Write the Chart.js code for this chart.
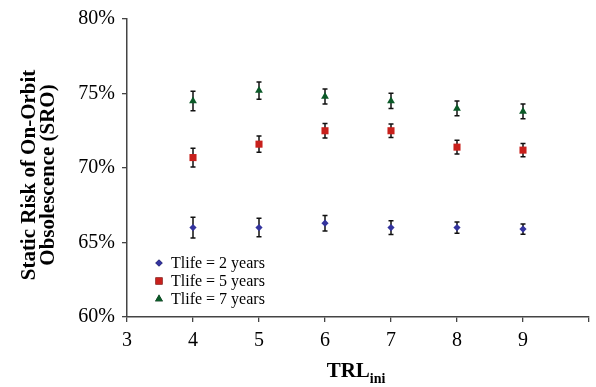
<!DOCTYPE html>
<html>
<head>
<meta charset="utf-8">
<script src="https://cdn.jsdelivr.net/npm/chart.js@4/dist/chart.umd.min.js"></script>
<style>
  html, body { margin: 0; padding: 0; background: #fff; }
  #grafico { display: block; }
</style>
</head>
<body>
<canvas id="grafico" width="596" height="387"></canvas>
<script>
// TRL inicial en el eje x
let trl = [4, 5, 6, 7, 8, 9]

// SRO medio (%) para cada vida util
let sro_2 = [66.0, 66.0, 66.3, 66.0, 66.0, 65.9]
let sro_5 = [70.7, 71.6, 72.5, 72.5, 71.4, 71.2]
let sro_7 = [74.5, 75.2, 74.8, 74.5, 74.0, 73.8]

// semiancho de las barras de error (%)
let err_2 = [0.70, 0.62, 0.52, 0.46, 0.38, 0.34]
let err_5 = [0.63, 0.54, 0.48, 0.46, 0.46, 0.45]
let err_7 = [0.65, 0.58, 0.51, 0.51, 0.49, 0.49]

let etiquetas = ['Tlife = 2 years', 'Tlife = 5 years', 'Tlife = 7 years']
let ticks_y = [60, 65, 70, 75, 80]

const serif = '"Liberation Serif", "Times New Roman", serif'

function puntos(valores){
  return trl.map((x, i) => ({ x: x, y: valores[i] }))
}

// barras de error, se dibujan antes de los marcadores
const barrasError = {
  id: 'barrasError',
  beforeDatasetsDraw(chart){
    const ctx = chart.ctx
    const sx = chart.scales.x
    const sy = chart.scales.y
    ctx.save()
    ctx.strokeStyle = '#111'
    ctx.lineWidth = 1.5
    chart.data.datasets.forEach(ds => {
      ds.data.forEach((p, i) => {
        const x = sx.getPixelForValue(p.x)
        const y1 = sy.getPixelForValue(p.y + ds.errores[i])
        const y2 = sy.getPixelForValue(p.y - ds.errores[i])
        ctx.beginPath()
        ctx.moveTo(x, y1); ctx.lineTo(x, y2)
        ctx.moveTo(x - 2.5, y1); ctx.lineTo(x + 2.5, y1)
        ctx.moveTo(x - 2.5, y2); ctx.lineTo(x + 2.5, y2)
        ctx.stroke()
      })
    })
    ctx.restore()
  }
}

// titulos de ejes y leyenda dentro del area
const textos = {
  id: 'textos',
  afterDraw(chart){
    const ctx = chart.ctx
    const area = chart.chartArea
    ctx.save()
    ctx.fillStyle = '#000'

    // titulo eje y
    ctx.save()
    ctx.translate(0, 175)
    ctx.rotate(-Math.PI / 2)
    ctx.font = 'bold 21px ' + serif
    ctx.textAlign = 'center'
    ctx.textBaseline = 'alphabetic'
    ctx.fillText('Static Risk of On-Orbit', 0, 35)
    ctx.fillText('Obsolescence (SRO)', 0, 54)
    ctx.restore()

    // titulo eje x con subindice
    ctx.font = 'bold 21px ' + serif
    const w1 = ctx.measureText('TRL').width
    ctx.font = 'bold 14px ' + serif
    const w2 = ctx.measureText('ini').width
    const x0 = (area.left + area.right) / 2 - (w1 + w2) / 2 - 2
    ctx.textAlign = 'left'
    ctx.textBaseline = 'alphabetic'
    ctx.font = 'bold 21px ' + serif
    ctx.fillText('TRL', x0, 377)
    ctx.font = 'bold 14px ' + serif
    ctx.fillText('ini', x0 + w1, 383)

    // leyenda
    ctx.font = '16px ' + serif
    chart.data.datasets.forEach((ds, i) => {
      const ly = 263 + i * 18
      Chart.helpers.drawPoint(ctx, {
        pointStyle: ds.pointStyle,
        radius: ds.pointRadius,
        borderWidth: 0
      }, 159, ly)
      ctx.fillStyle = ds.backgroundColor
      ctx.fill()
      ctx.fillStyle = '#000'
      ctx.fillText(ds.label, 171, ly + 5)
    })
    ctx.restore()
  }
}

let grafico = document.getElementById('grafico').getContext('2d')

new Chart(grafico, {
  type: 'scatter',
  data: {
    datasets: [{
      label: etiquetas[0],
      data: puntos(sro_2),
      errores: err_2,
      pointStyle: 'rectRot',
      pointRadius: 3.6,
      backgroundColor: '#34349e',
      borderWidth: 0
    }, {
      label: etiquetas[1],
      data: puntos(sro_5),
      errores: err_5,
      pointStyle: 'rect',
      pointRadius: 5,
      backgroundColor: '#c8201c',
      borderWidth: 0
    }, {
      label: etiquetas[2],
      data: puntos(sro_7),
      errores: err_7,
      pointStyle: 'triangle',
      pointRadius: 4.5,
      backgroundColor: '#0b5a28',
      borderWidth: 0
    }]
  },
  options: {
    responsive: false,
    animation: false,
    layout: { padding: { top: 19, right: 7, left: 0, bottom: 0 } },
    plugins: {
      legend: { display: false },
      tooltip: { enabled: false }
    },
    scales: {
      x: {
        type: 'linear',
        min: 3,
        max: 10,
        afterFit(scale){ scale.height = 70 },
        ticks: {
          stepSize: 1,
          padding: 7,
          color: '#000',
          font: { family: serif, size: 20 },
          callback: v => v === 10 ? '' : v
        },
        grid: { drawOnChartArea: false, drawTicks: true, tickLength: 5, color: '#444', lineWidth: 1.3 },
        border: { color: '#444', width: 1.5 }
      },
      y: {
        min: 60,
        max: 80,
        afterFit(scale){ scale.width = 127 },
        afterBuildTicks(scale){ scale.ticks = ticks_y.map(v => ({ value: v })) },
        ticks: {
          padding: 7,
          color: '#000',
          font: { family: serif, size: 20 },
          callback: v => v + '%'
        },
        grid: { drawOnChartArea: false, drawTicks: true, tickLength: 5, color: '#444', lineWidth: 1.3 },
        border: { color: '#444', width: 1.5 }
      }
    }
  },
  plugins: [barrasError, textos]
})
</script>
</body>
</html>
